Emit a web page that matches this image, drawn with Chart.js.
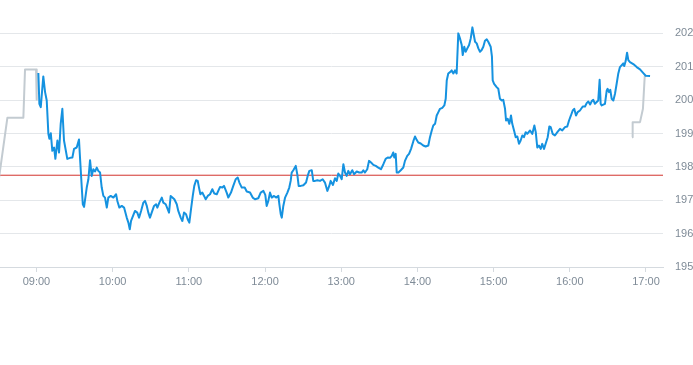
<!DOCTYPE html>
<html>
<head>
<meta charset="utf-8">
<script src="https://cdn.jsdelivr.net/npm/chart.js@4.4.1/dist/chart.umd.min.js"></script>
<style>
  html, body { margin: 0; padding: 0; background: #fff; overflow: hidden; }
  #wrap { position: relative; width: 700px; height: 365px; }
</style>
</head>
<body>
<div id="wrap"><canvas id="chart"></canvas></div>
<script>
// times are minutes after midnight
const axisStart = 511.3;
const axisEnd = 1033.4;
const xTickLabels = ["09:00", "10:00", "11:00", "12:00", "13:00", "14:00", "15:00", "16:00", "17:00"];
const yTicks = [195, 196, 197, 198, 199, 200, 201, 202];
const yMin = 195;
const yMax = 203;
const prevClose = 197.75;

const preMinutes = [509, 511.3, 517.1, 529.7, 531.0, 539.7, 540.2];
const preValues = [197.25, 197.88, 199.47, 199.47, 200.92, 200.92, 200.01];

const sessionMinutes = [
  541.5, 542.3, 543.4, 545.4, 546.8, 548.1, 549.4, 550.2, 551.3, 552.5, 553.9, 554.9, 556.5, 557.8, 559.1, 560.4,
  561.7, 564.3, 566.5, 568.3, 569.6, 571.7, 573.5, 574.3, 575.7, 576.5, 577.5, 579.6, 580.9, 582.2, 583.5, 584.8,
  586.1, 587.5, 588.7, 590.1, 591.4, 592.7, 594.0, 595.4, 596.6, 598.5, 600.6, 602.7, 603.7, 605.3, 607.2, 609.0,
  611.1, 612.4, 613.5, 614.5, 617.6, 619.4, 620.8, 622.4, 624.2, 625.5, 626.9, 628.1, 629.4, 632.6, 634.2, 635.2,
  636.8, 638.7, 639.9, 641.8, 644.4, 645.7, 648.6, 650.5, 651.7, 653.6, 654.9, 656.2, 657.8, 659.1, 660.4, 661.7,
  663.1, 664.3, 665.7, 667.0, 668.0, 669.1, 670.6, 672.0, 673.3, 674.9, 676.7, 678.5, 680.1, 682.0, 684.6, 686.4,
  687.7, 689.8, 691.1, 693.2, 695.0, 696.9, 698.5, 699.8, 701.7, 704.0, 705.6, 708.2, 710.3, 712.1, 714.7, 716.6,
  718.7, 720.2, 721.3, 722.6, 723.9, 725.3, 727.1, 728.7, 730.5, 731.3, 732.4, 733.2, 734.4, 735.8, 737.6, 739.1,
  740.2, 741.0, 742.3, 744.2, 745.4, 746.5, 748.1, 750.2, 752.3, 753.6, 754.9, 756.8, 758.0, 759.4, 761.2, 763.3,
  765.4, 767.2, 769.1, 770.6, 771.7, 773.5, 775.1, 776.5, 777.7, 779.1, 780.4, 781.7, 783.0, 784.3, 785.6, 786.9,
  788.7, 790.1, 792.2, 794.2, 796.1, 797.4, 798.7, 800.5, 801.9, 803.5, 805.3, 807.2, 809.2, 811.3, 813.2, 815.0,
  816.6, 818.4, 819.8, 821.0, 821.8, 822.9, 823.7, 825.0, 826.9, 828.9, 830.2, 832.0, 833.4, 835.0, 836.8, 838.1,
  839.4, 840.7, 842.6, 844.6, 846.5, 848.6, 849.9, 851.3, 852.5, 853.9, 855.2, 856.5, 857.8, 859.6, 861.2, 862.3,
  863.1, 864.3, 865.7, 867.0, 868.3, 869.6, 870.9, 872.2, 873.5, 874.9, 875.7, 876.9, 878.0, 879.3, 880.7, 882.0,
  883.3, 884.4, 885.4, 886.7, 888.0, 889.3, 890.6, 891.9, 893.2, 894.6, 895.8, 897.7, 898.7, 899.3, 900.4, 902.4,
  903.7, 905.0, 906.4, 907.6, 909.0, 909.8, 911.1, 912.4, 913.7, 914.7, 916.1, 917.4, 918.7, 920.0, 921.3, 922.6,
  923.9, 925.3, 926.5, 928.7, 930.5, 932.1, 933.2, 934.4, 935.7, 937.1, 938.3, 939.7, 941.3, 942.6, 943.9, 945.0,
  946.5, 948.3, 950.2, 952.3, 954.1, 956.2, 958.0, 959.4, 960.9, 962.3, 963.5, 964.9, 966.2, 968.0, 970.2, 972.0,
  973.3, 974.6, 976.0, 977.3, 978.5, 979.8, 982.4, 983.5, 984.3, 985.1, 987.7, 989.1, 989.8, 990.9, 991.9, 993.0,
  994.3, 995.6, 996.9, 998.2, 999.5, 1000.9, 1002.1, 1002.9, 1004.0, 1005.1, 1006.1, 1007.4, 1010.0, 1012.7, 1015.3, 1017.9,
  1019.8, 1023.2
];
const sessionValues = [
  200.81, 199.89, 199.79, 200.71, 200.24, 199.99, 198.99, 198.84, 199.01, 198.48, 198.58, 198.24, 198.79, 198.43, 199.29, 199.74,
  198.79, 198.24, 198.27, 198.28, 198.54, 198.58, 198.82, 198.28, 197.38, 196.88, 196.80, 197.38, 197.63, 198.20, 197.73, 197.93,
  197.86, 197.98, 197.88, 197.83, 197.38, 197.13, 197.08, 196.78, 197.08, 197.13, 197.08, 197.18, 196.98, 196.78, 196.83, 196.78,
  196.48, 196.33, 196.13, 196.38, 196.68, 196.63, 196.48, 196.68, 196.93, 196.98, 196.83, 196.63, 196.48, 196.83, 196.88, 196.78,
  196.93, 197.08, 196.93, 196.88, 196.63, 197.13, 197.03, 196.88, 196.68, 196.48, 196.38, 196.63, 196.58, 196.43, 196.33, 196.73,
  197.13, 197.43, 197.60, 197.58, 197.38, 197.18, 197.23, 197.13, 197.03, 197.13, 197.18, 197.33, 197.20, 197.18, 197.40, 197.38,
  197.43, 197.23, 197.08, 197.23, 197.43, 197.63, 197.68, 197.53, 197.38, 197.38, 197.26, 197.23, 197.08, 197.03, 197.06, 197.23,
  197.28, 197.16, 196.83, 196.98, 197.23, 197.08, 197.13, 197.08, 197.13, 196.88, 196.58, 196.48, 196.83, 197.08, 197.23, 197.38,
  197.58, 197.83, 197.90, 198.03, 197.78, 197.43, 197.43, 197.45, 197.53, 197.73, 197.88, 197.90, 197.58, 197.58, 197.60, 197.58,
  197.63, 197.53, 197.28, 197.43, 197.58, 197.46, 197.66, 197.58, 197.80, 197.73, 197.63, 198.08, 197.83, 197.73, 197.88, 197.78,
  197.90, 197.78, 197.86, 197.83, 197.83, 197.90, 197.83, 197.93, 198.18, 198.13, 198.06, 198.03, 197.98, 197.93, 198.08, 198.24,
  198.28, 198.27, 198.33, 198.43, 198.28, 198.39, 197.83, 197.83, 197.90, 197.98, 198.18, 198.33, 198.39, 198.54, 198.77, 198.91,
  198.81, 198.73, 198.70, 198.64, 198.61, 198.64, 198.89, 199.09, 199.24, 199.29, 199.54, 199.64, 199.74, 199.77, 199.84, 200.04,
  200.59, 200.80, 200.84, 200.89, 200.80, 200.89, 200.80, 202.00, 201.85, 201.65, 201.35, 201.60, 201.45, 201.55, 201.65, 201.85,
  202.18, 201.95, 201.75, 201.70, 201.55, 201.45, 201.50, 201.60, 201.78, 201.82, 201.75, 201.60, 201.30, 200.59, 200.49, 200.39,
  200.34, 200.04, 199.99, 200.01, 199.74, 199.39, 199.44, 199.29, 199.54, 199.29, 199.09, 198.89, 198.91, 198.69, 198.79, 198.94,
  198.89, 199.04, 198.99, 199.09, 198.99, 199.24, 199.04, 198.58, 198.64, 198.54, 198.69, 198.54, 198.73, 198.89, 199.21, 199.19,
  198.99, 198.94, 199.04, 199.14, 199.09, 199.19, 199.21, 199.39, 199.54, 199.69, 199.74, 199.54, 199.64, 199.69, 199.81, 199.81,
  199.91, 199.96, 199.87, 199.97, 200.01, 199.89, 199.99, 200.61, 199.89, 199.84, 199.89, 200.29, 200.34, 200.24, 200.31, 200.04,
  199.99, 200.19, 200.49, 200.80, 200.99, 201.05, 201.10, 201.02, 201.17, 201.42, 201.20, 201.14, 201.08, 200.99, 200.92, 200.81,
  200.73, 200.72
];

const postMinutes = [1009.0, 1009.5, 1015.3, 1017.6, 1019.0, 1019.8];
const postValues = [198.89, 199.34, 199.34, 199.74, 200.71, 200.73];

function toMinutes(label) {
  const p = label.split(":");
  return Number(p[0]) * 60 + Number(p[1]);
}

function pairs(xs, ys) {
  return xs.map((x, i) => ({ x: x, y: ys[i] }));
}

const labelColor = "#7f8b97";
const gridColor = "#e4e7ea";

const ctx = document.getElementById("chart");

new Chart(ctx, {
  type: "line",
  data: {
    datasets: [
      {
        label: "session",
        data: pairs(sessionMinutes, sessionValues),
        borderColor: "#1592e0",
        borderWidth: 2,
        order: 1
      },
      {
        label: "pre",
        data: pairs(preMinutes, preValues),
        borderColor: "#c3cbd1",
        borderWidth: 2,
        order: 2
      },
      {
        label: "post",
        data: pairs(postMinutes, postValues),
        borderColor: "#c3cbd1",
        borderWidth: 2,
        order: 2
      },
      {
        label: "previous close",
        data: [{ x: axisStart, y: prevClose }, { x: axisEnd, y: prevClose }],
        borderColor: "#d2322d",
        borderWidth: 1,
        order: 3
      }
    ]
  },
  options: {
    animation: false,
    responsive: true,
    maintainAspectRatio: false,
    layout: { padding: 0 },
    elements: {
      point: { radius: 0, hoverRadius: 0 },
      line: { tension: 0, borderJoinStyle: "round", fill: false }
    },
    plugins: {
      legend: { display: false },
      tooltip: { enabled: false }
    },
    scales: {
      x: {
        type: "linear",
        min: axisStart,
        max: axisEnd,
        afterBuildTicks: (scale) => {
          scale.ticks = xTickLabels.map(l => ({ value: toMinutes(l) }));
        },
        afterFit: (scale) => {
          scale.height = 98;
        },
        grid: {
          drawOnChartArea: false,
          drawTicks: true,
          tickLength: 5,
          tickColor: "#d5dadf"
        },
        border: { display: true, color: "#d5dadf" },
        ticks: {
          color: labelColor,
          padding: 3,
          maxRotation: 0,
          font: { family: "'Liberation Sans', Arial, sans-serif", size: 11 },
          callback: (v) => {
            const h = Math.floor(v / 60), m = Math.round(v % 60);
            return String(h).padStart(2, "0") + ":" + String(m).padStart(2, "0");
          }
        }
      },
      y: {
        position: "right",
        min: yMin,
        max: yMax,
        afterBuildTicks: (scale) => {
          scale.ticks = yTicks.map(v => ({ value: v }));
        },
        afterFit: (scale) => {
          scale.width = 37;
          scale.paddingTop = 0;
          scale.paddingBottom = 0;
        },
        grid: {
          color: gridColor,
          drawTicks: true,
          tickLength: 8,
          tickColor: "rgba(0,0,0,0)"
        },
        border: { display: false },
        ticks: {
          color: labelColor,
          padding: 4,
          font: { family: "'Liberation Sans', Arial, sans-serif", size: 11 },
          callback: (v) => String(v)
        }
      }
    }
  }
});
</script>
</body>
</html>
